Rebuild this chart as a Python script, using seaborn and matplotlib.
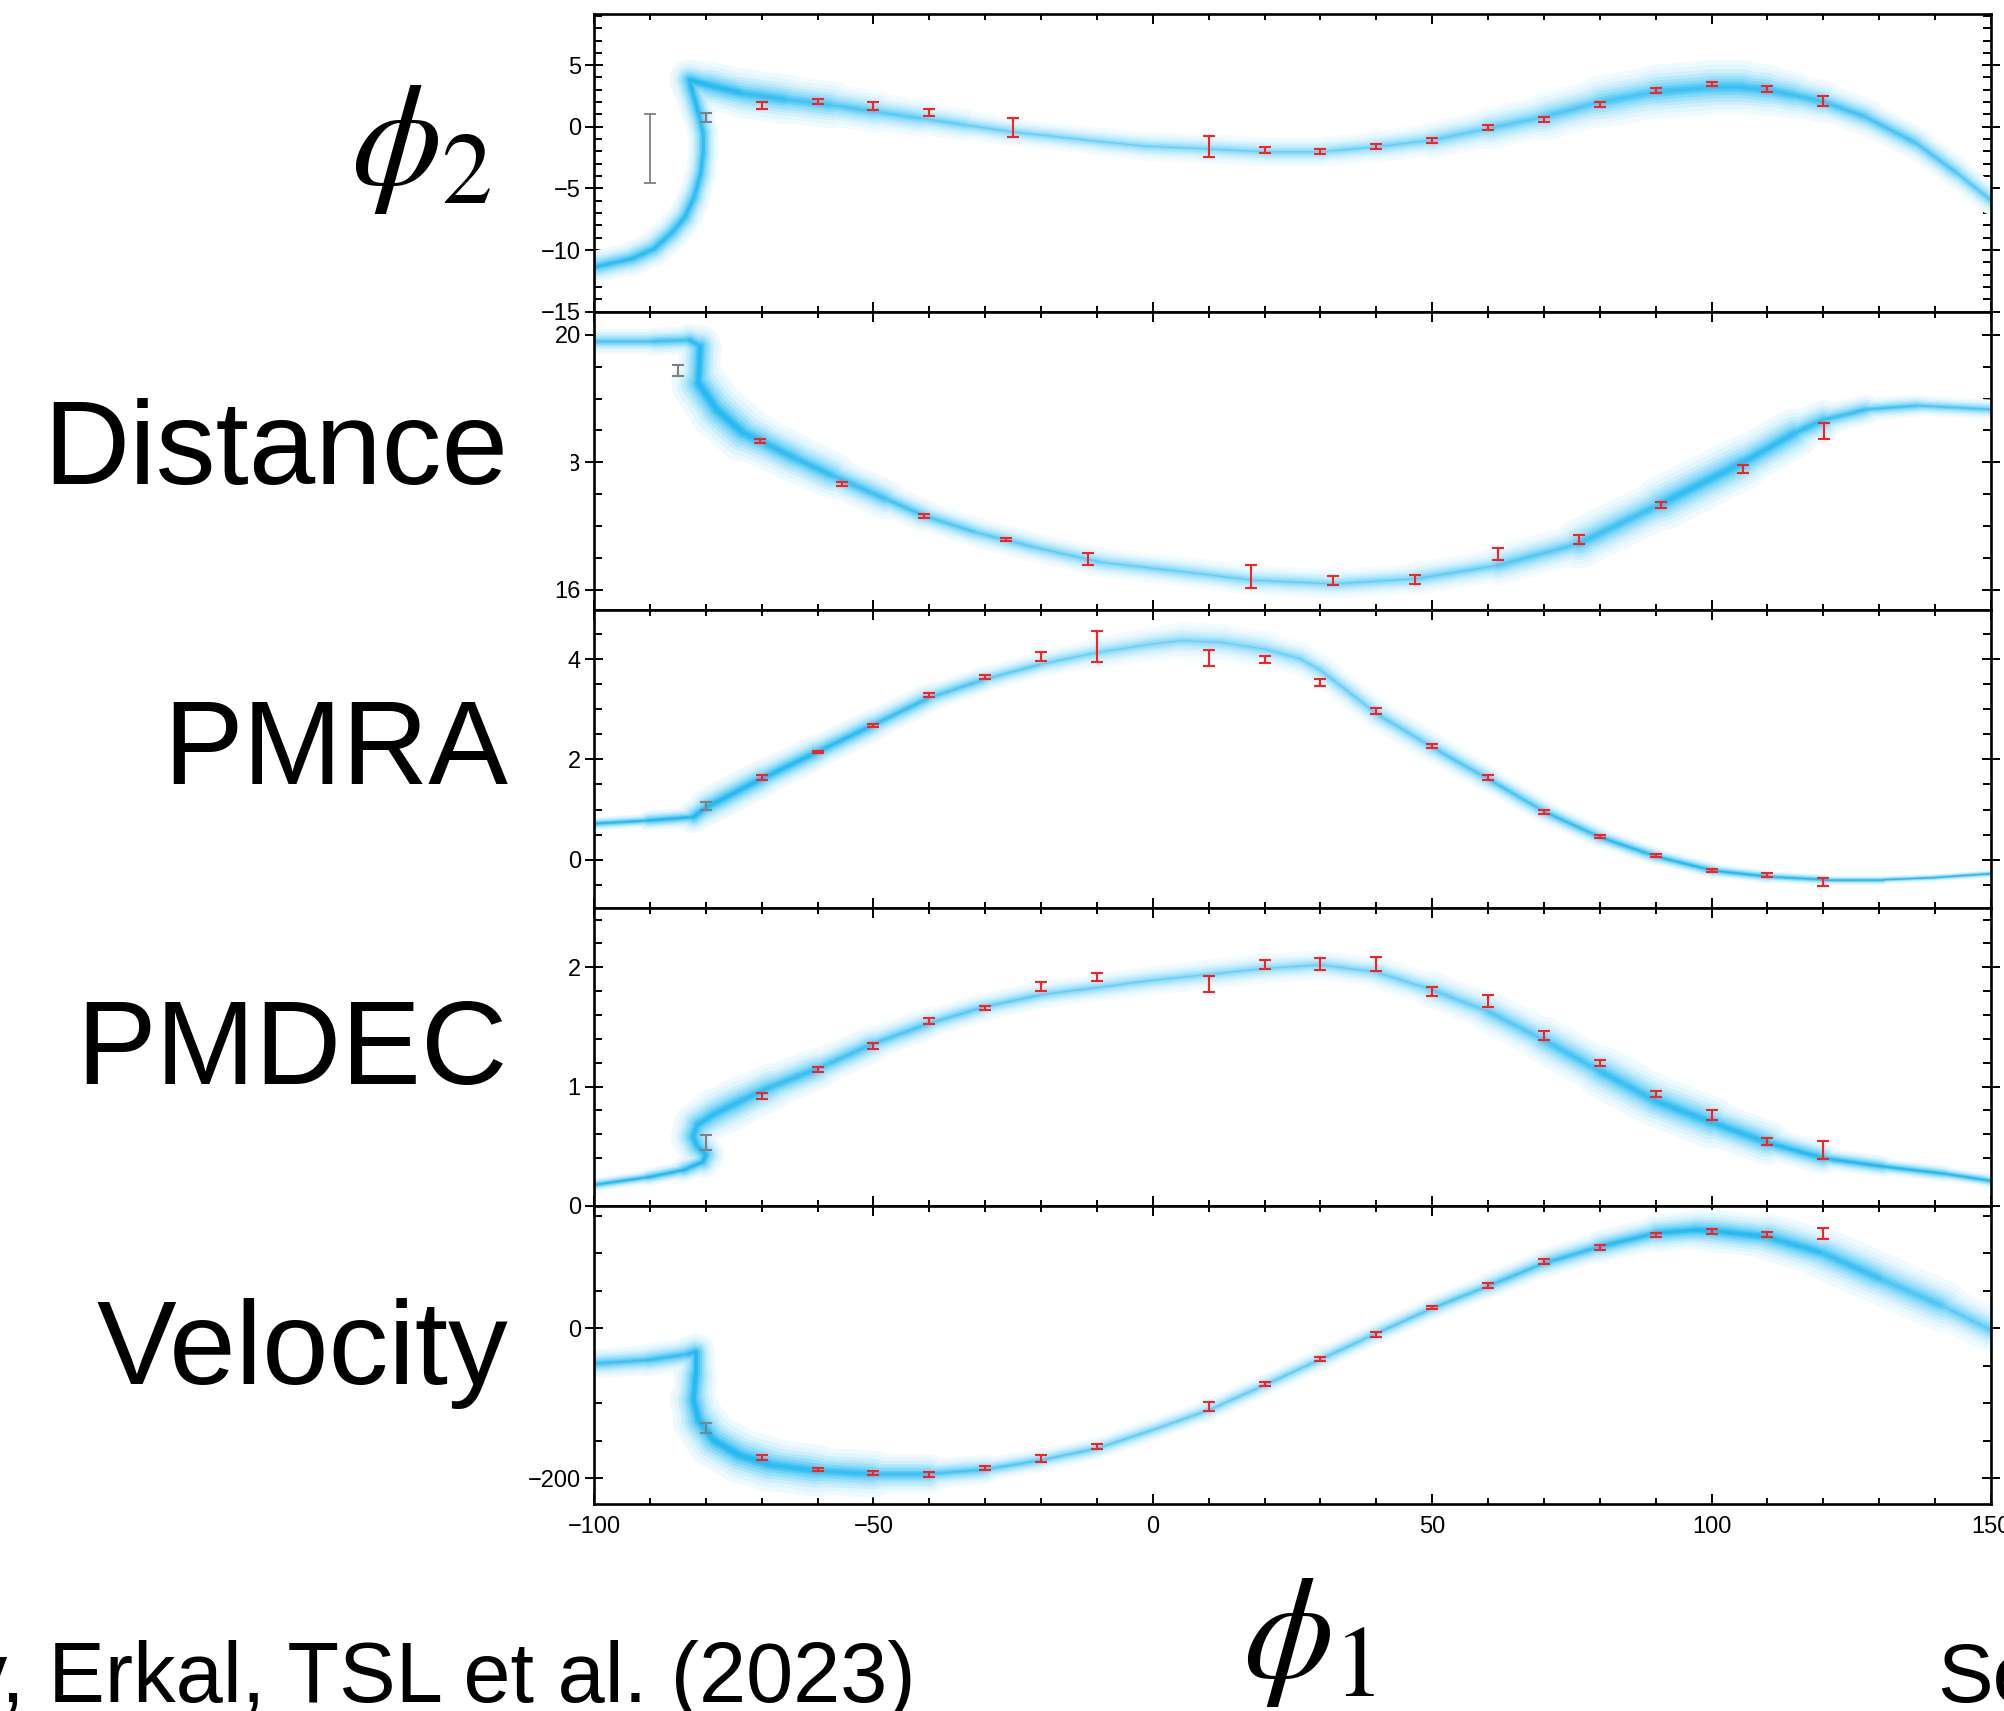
import numpy as np
import pandas as pd
import matplotlib
matplotlib.use("Agg")
import matplotlib.pyplot as plt
import seaborn as sns
from matplotlib.collections import LineCollection
from matplotlib.patches import Rectangle
from matplotlib.ticker import MultipleLocator, FixedLocator
from matplotlib.colors import to_rgb

# ------------------------------------------------------------------ data
# observed bins (phi1) for the red error bars
obs_phi1 = [-70, -60, -50, -40, -30, -20, -10, 10, 20, 30, 40, 50, 60, 70, 80, 90, 100, 110, 120]

# phi2 panel
phi2_obs_x = [-70, -60, -50, -40, -25, 10, 20, 30, 40, 50, 60, 70, 80, 90, 100, 110, 120]
phi2_obs_y = [1.73, 2.08, 1.70, 1.16, -0.05, -1.59, -1.89, -2.03, -1.57, -1.14, -0.08, 0.57, 1.78, 2.92, 3.49, 3.08, 2.08]
phi2_obs_e = [0.27, 0.20, 0.34, 0.28, 0.78, 0.84, 0.22, 0.20, 0.20, 0.20, 0.20, 0.20, 0.20, 0.20, 0.15, 0.25, 0.40]
phi2_gray = [(-80, 0.76, 0.38), (-90, -1.78, 2.81)]

# distance panel
dist_obs_x = [-70.3, -55.6, -40.9, -26.3, -11.6, 17.6, 32.3, 47.0, 61.7, 76.2, 91.0, 105.7, 120.2]
dist_obs_y = [18.34, 17.66, 17.15, 16.79, 16.48, 16.21, 16.14, 16.16, 16.56, 16.79, 17.33, 17.89, 18.49]
dist_obs_e = [0.03, 0.03, 0.03, 0.025, 0.10, 0.18, 0.07, 0.07, 0.10, 0.07, 0.045, 0.065, 0.13]
dist_gray = [(-84.9, 19.44, 0.09)]

# pmra panel
pmra_obs_y = [1.64, 2.15, 2.68, 3.28, 3.65, 4.05, 4.25, 4.03, 3.99, 3.53, 2.96, 2.26, 1.64, 0.95, 0.46, 0.08, -0.21, -0.30, -0.45]
pmra_obs_e = [0.05, 0.027, 0.033, 0.04, 0.04, 0.097, 0.305, 0.16, 0.077, 0.068, 0.056, 0.04, 0.056, 0.04, 0.028, 0.024, 0.028, 0.04, 0.083]
pmra_gray = [(-80, 1.07, 0.08)]

# pmdec panel
pmdec_obs_y = [0.92, 1.14, 1.34, 1.55, 1.66, 1.84, 1.92, 1.86, 2.02, 2.03, 2.03, 1.80, 1.72, 1.43, 1.20, 0.94, 0.76, 0.54, 0.47]
pmdec_obs_e = [0.028, 0.021, 0.022, 0.025, 0.017, 0.035, 0.036, 0.065, 0.038, 0.05, 0.058, 0.038, 0.05, 0.036, 0.027, 0.025, 0.041, 0.033, 0.075]
pmdec_gray = [(-80, 0.53, 0.06)]

# velocity panel
vel_obs_y = [-172, -188, -192.9, -195, -186.2, -173.8, -157.8, -103.6, -73.8, -40.9, -8, 28, 56.9, 89.3, 107.6, 124.9, 129.3, 124.9, 126.7]
vel_obs_e = [3.6, 2.2, 3.1, 3.6, 2.7, 4.9, 3.1, 6.0, 2.7, 2.2, 2.9, 1.8, 3.1, 3.1, 3.3, 2.7, 3.6, 3.1, 7.3]
vel_gray = [(-80, -132.4, 6.7)]

# model stream tracks (ridge), band thickness (px) and density (0-1)
phi2_trk_x = [-99.7, -93.3, -89.3, -86.1, -83.7, -82.1, -80.9, -80.5, -80.5, -81.3, -82.5, -82.9, -79.7, -73.3, -65.3, -57.3, -49.3, -41.3, -33.4, -25.4, -17.4, -9.4, -1.4, 8.4, 20, 30, 40, 50, 60, 70, 80, 90, 100, 105.5, 110, 114.7, 120, 127.5, 136.7, 144, 150]
phi2_trk_y = [-11.35, -10.7, -9.9, -8.6, -7.3, -5.7, -3.8, -2.2, -0.5, 1.1, 3.0, 3.8, 3.4, 2.7, 2.2, 1.76, 1.2, 0.68, 0.14, -0.4, -0.8, -1.2, -1.57, -1.76, -2.03, -2.03, -1.62, -1.08, -0.14, 0.81, 2.0, 2.84, 3.19, 3.19, 2.97, 2.57, 2.03, 0.81, -1.35, -3.78, -5.95]
phi2_trk_w = [12, 14, 14, 14, 14, 13, 12, 12, 12, 13, 15, 15, 18, 20, 20, 18, 16, 14, 12, 11, 11, 11, 12, 12, 12, 12, 12, 14, 16, 18, 20, 22, 22, 22, 20, 18, 16, 14, 13, 12, 11]
phi2_trk_d = [0.9, 0.9, 0.9, 0.9, 0.9, 0.9, 0.9, 0.9, 0.9, 0.9, 1.0, 1.0, 1.0, 0.9, 0.75, 0.6, 0.5, 0.4, 0.3, 0.25, 0.2, 0.2, 0.2, 0.2, 0.2, 0.2, 0.25, 0.3, 0.4, 0.5, 0.6, 0.7, 0.8, 0.8, 0.8, 0.75, 0.7, 0.65, 0.6, 0.5, 0.4]

dist_trk_x = [-99.7, -89.3, -82.9, -81.0, -81.3, -78.1, -73.3, -70.3, -63.7, -57.3, -47.7, -40.9, -31.7, -21.4, -9.4, 8.4, 17.6, 32.3, 47.0, 61.7, 76.2, 91.0, 105.7, 114.9, 120.2, 127.7, 136.9, 150]
dist_trk_y = [19.9, 19.9, 19.92, 19.82, 19.24, 18.83, 18.46, 18.34, 18.05, 17.79, 17.42, 17.16, 16.9, 16.67, 16.43, 16.25, 16.15, 16.09, 16.17, 16.38, 16.72, 17.35, 18.0, 18.46, 18.67, 18.83, 18.89, 18.83]
dist_trk_w = [10, 10, 12, 14, 20, 24, 22, 20, 20, 18, 14, 12, 12, 12, 12, 12, 12, 12, 12, 14, 18, 22, 22, 18, 14, 10, 8, 8]
dist_trk_d = [0.6, 0.6, 0.8, 1.0, 1.0, 1.0, 0.95, 0.9, 0.85, 0.8, 0.7, 0.6, 0.45, 0.35, 0.3, 0.25, 0.25, 0.25, 0.3, 0.4, 0.6, 0.85, 0.9, 0.85, 0.8, 0.7, 0.6, 0.5]

pmra_trk_x = [-99.55, -90.4, -82.2, -79.8, -69.9, -60, -50, -40, -30, -20, -10, -0.3, 5.2, 12.5, 20, 26.3, 30, 40.2, 50.2, 60.3, 70.2, 80.2, 90.2, 100.3, 110.2, 120.3, 130.7, 139.7, 150]
pmra_trk_y = [0.72, 0.78, 0.85, 1.05, 1.62, 2.15, 2.69, 3.23, 3.6, 3.9, 4.13, 4.3, 4.37, 4.33, 4.2, 4.01, 3.78, 2.9, 2.23, 1.59, 0.95, 0.44, 0.06, -0.22, -0.34, -0.40, -0.40, -0.36, -0.28]
pmra_trk_w = [5, 6, 10, 16, 14, 14, 12, 12, 10, 10, 12, 14, 14, 16, 14, 13, 12, 12, 12, 10, 9, 8, 7, 6, 5, 4, 3, 3, 3]
pmra_trk_d = [1.0, 1.0, 1.0, 1.0, 1.0, 0.95, 0.85, 0.65, 0.45, 0.3, 0.2, 0.18, 0.18, 0.18, 0.2, 0.22, 0.25, 0.3, 0.4, 0.55, 0.7, 0.85, 0.95, 1.0, 1.0, 1.0, 1.0, 1.0, 1.0]

pmdec_trk_x = [-99.55, -90.4, -84, -80.5, -80.0, -81.5, -82.3, -81.5, -78.5, -73.7, -68.2, -60, -50, -40, -30, -20, -10, -0.3, 10, 20, 30, 40, 50, 60, 70, 80, 90, 100, 110, 120, 130.7, 141.6, 150]
pmdec_trk_y = [0.18, 0.24, 0.30, 0.37, 0.43, 0.50, 0.58, 0.68, 0.77, 0.88, 1.0, 1.15, 1.36, 1.53, 1.67, 1.77, 1.83, 1.89, 1.94, 1.99, 2.02, 1.96, 1.81, 1.63, 1.39, 1.13, 0.88, 0.70, 0.53, 0.40, 0.33, 0.27, 0.21]
pmdec_trk_w = [5, 6, 8, 12, 14, 16, 18, 18, 20, 20, 18, 16, 14, 12, 11, 11, 11, 12, 12, 12, 12, 12, 14, 16, 18, 20, 22, 20, 16, 10, 7, 6, 5]
pmdec_trk_d = [1.0, 1.0, 1.0, 1.0, 1.0, 0.95, 0.9, 0.9, 0.9, 0.85, 0.85, 0.75, 0.6, 0.5, 0.4, 0.3, 0.25, 0.2, 0.2, 0.2, 0.2, 0.25, 0.3, 0.4, 0.6, 0.75, 0.85, 0.9, 0.9, 1.0, 1.0, 1.0, 1.0]

vel_trk_x = [-99.55, -90.4, -83, -81.8, -81.8, -82.2, -81.3, -78.6, -74, -68.2, -60, -50, -40, -30, -20, -10, -0.3, 10, 20, 30, 40, 50, 60, 70, 80, 90, 97, 100, 110, 120, 130.7, 141.6, 150]
vel_trk_y = [-46.7, -42.2, -34, -31, -60, -95.6, -122, -149, -169, -182, -190, -194, -194, -188, -175.6, -160, -136, -109, -75.6, -41.3, -6.7, 26.7, 56.4, 86.7, 108.9, 126.7, 131, 130, 122, 100, 64.4, 28.9, -2.2]
vel_trk_w = [12, 12, 14, 14, 16, 18, 20, 22, 22, 22, 20, 18, 14, 10, 9, 9, 9, 9, 9, 9, 9, 9, 10, 11, 12, 14, 16, 16, 18, 20, 22, 20, 16]
vel_trk_d = [0.7, 0.7, 0.85, 1.0, 1.0, 1.0, 1.0, 1.0, 1.0, 0.95, 0.85, 0.8, 0.7, 0.55, 0.45, 0.35, 0.3, 0.3, 0.3, 0.35, 0.4, 0.45, 0.55, 0.7, 0.85, 0.95, 1.0, 1.0, 0.95, 0.85, 0.7, 0.5, 0.35]

row_labels = [r"$\phi_2$", "Distance", "PMRA", "PMDEC", "Velocity"]
x_ticks = [-100, -50, 0, 50, 100, 150]

# ------------------------------------------------------------------ style
W, H, DPI = 2004, 1711, 100
sns.set_theme(style="ticks")
plt.rcParams.update({
    "font.family": ["Liberation Sans", "DejaVu Sans"],
    "mathtext.fontset": "stix",
    "axes.linewidth": 1.9,
    "axes.edgecolor": "black",
    "xtick.color": "black",
    "ytick.color": "black",
})

fig = plt.figure(figsize=(W / DPI, H / DPI), dpi=DPI)
gs = fig.add_gridspec(5, 1, left=594 / W, right=1991 / W, top=1 - 14 / H, bottom=1 - 1504 / H, hspace=0)
axes = [fig.add_subplot(gs[i]) for i in range(5)]

BLUE = np.array(to_rgb("#06b0f0"))
WIDTH_SCALE = 1.3
# soft particle-cloud look: outer faint halo -> dense core
LAYER_FAC = [1.9, 1.55, 1.25, 1.0, 0.78, 0.56, 0.36, 0.2]
LAYER_ALPHA = [0.07, 0.13, 0.22, 0.32, 0.44, 0.57, 0.72, 0.85]


def draw_stream(ax, xs, ys, ws, ds):
    pts = np.column_stack([xs, ys])
    segs = np.stack([pts[:-1], pts[1:]], axis=1)
    w = (np.asarray(ws[:-1], float) + np.asarray(ws[1:], float)) / 2 * 72 / DPI * WIDTH_SCALE
    d = (np.asarray(ds[:-1], float) + np.asarray(ds[1:], float)) / 2
    inten = 0.45 + 0.55 * d
    for k, (fac, a) in enumerate(zip(LAYER_FAC, LAYER_ALPHA)):
        al = np.clip(a * inten, 0, 1)
        cols = 1 - al[:, None] * (1 - BLUE)
        lc = LineCollection(segs, linewidths=w * fac, colors=cols, capstyle="round",
                            joinstyle="round", zorder=1 + 0.01 * k)
        ax.add_collection(lc)


def draw_obs(ax, xs, ys, es, grays):
    ax.errorbar(xs, ys, yerr=es, fmt="none", ecolor="#ff1f1f", elinewidth=1.5,
                capsize=4.5, capthick=1.5, zorder=5)
    for gx, gy, ge in grays:
        lw = 1.3 if ge > 1 else 1.5
        ax.errorbar([gx], [gy], yerr=[ge], fmt="none", ecolor="#808080", elinewidth=lw,
                    capsize=4.5, capthick=lw, zorder=5)


panels = [
    (phi2_trk_x, phi2_trk_y, phi2_trk_w, phi2_trk_d, phi2_obs_x, phi2_obs_y, phi2_obs_e, phi2_gray,
     (-15.02, 9.15), 5, 1),
    (dist_trk_x, dist_trk_y, dist_trk_w, dist_trk_d, dist_obs_x, dist_obs_y, dist_obs_e, dist_gray,
     (15.68, 20.36), 2, 0.5),
    (pmra_trk_x, pmra_trk_y, pmra_trk_w, pmra_trk_d, obs_phi1, pmra_obs_y, pmra_obs_e, pmra_gray,
     (-0.965, 4.98), 2, 0.5),
    (pmdec_trk_x, pmdec_trk_y, pmdec_trk_w, pmdec_trk_d, obs_phi1, pmdec_obs_y, pmdec_obs_e, pmdec_gray,
     (-0.001, 2.497), 1, 0.2),
    (vel_trk_x, vel_trk_y, vel_trk_w, vel_trk_d, obs_phi1, vel_obs_y, vel_obs_e, vel_gray,
     (-234, 163), 200, 50),
]

for i, (ax, p) in enumerate(zip(axes, panels)):
    tx, ty, tw, td, ox, oy, oe, gr, ylim, ymaj, ymin = p
    ax.set_facecolor("white")
    draw_stream(ax, tx, ty, tw, td)
    ridge = pd.DataFrame({"phi1": tx, "val": ty})
    sns.lineplot(data=ridge, x="phi1", y="val", sort=False, estimator=None, ax=ax,
                 color="#05aeee", lw=0.8, alpha=0.25, zorder=1.5)
    draw_obs(ax, ox, oy, oe, gr)
    ax.set_xlim(-100, 150)
    ax.set_ylim(*ylim)
    ax.set_xlabel("")
    ax.set_ylabel("")
    ax.xaxis.set_major_locator(FixedLocator(x_ticks))
    ax.xaxis.set_minor_locator(MultipleLocator(10))
    ax.yaxis.set_major_locator(MultipleLocator(ymaj))
    ax.yaxis.set_minor_locator(MultipleLocator(ymin))
    ax.tick_params(axis="x", which="both", direction="in", top=True, bottom=True, width=1.4)
    ax.tick_params(axis="x", which="major", length=7.5, labelsize=17, pad=9)
    ax.tick_params(axis="x", which="minor", length=4.5)
    ax.tick_params(axis="y", which="both", left=True, right=True, width=1.4)
    ax.tick_params(axis="y", which="major", direction="inout", length=13, labelsize=17, pad=3)
    ax.tick_params(axis="y", which="minor", direction="in", length=5.5)
    if i < 4:
        ax.tick_params(axis="x", labelbottom=False)
    for sp in ax.spines.values():
        sp.set_visible(True)
        sp.set_zorder(10)

# cover part of the hidden "18" label as in the slide
fig.patches.append(Rectangle((538 / W, 1 - 478 / H), 33 / W, 30 / H, transform=fig.transFigure,
                             facecolor="white", edgecolor="none", zorder=20))

# big row labels
fig.text(492 / W, 1 - 184 / H, row_labels[0], fontsize=104, ha="right", va="baseline", color="black")
label_base = [484, 784, 1084, 1384]
for lab, yb in zip(row_labels[1:], label_base):
    fig.text(508 / W, 1 - yb / H, lab, fontsize=86, ha="right", va="baseline", color="black")

# bottom texts
fig.text(916 / W, 1 - 1702 / H, "Koposov, Erkal, TSL et al. (2023)", fontsize=61,
         ha="right", va="baseline", color="black")
fig.text(1243 / W, 1 - 1677 / H, r"$\phi_1$", fontsize=104, ha="left", va="baseline", color="black")
fig.text(1937 / W, 1 - 1702 / H, "See", fontsize=60, ha="left", va="baseline", color="black")

fig.savefig("out.png", dpi=DPI, facecolor="white")
